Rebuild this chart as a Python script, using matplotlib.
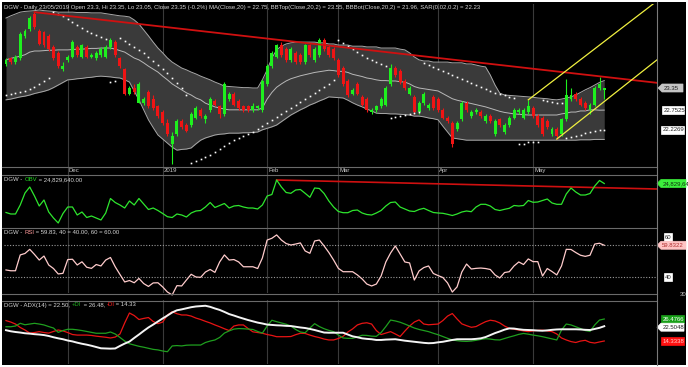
import matplotlib
matplotlib.use('Agg')
import matplotlib.pyplot as plt
from matplotlib.patches import Rectangle, Polygon
from matplotlib.transforms import blended_transform_factory
import numpy as np

# ---------------- data ----------------
months = ['Dec', '2019', 'Feb', 'Mar', 'Apr', 'May']
month_start_idx = [13, 33, 55, 70, 91, 111]

opens = [24.00,24.15,24.05,24.15,24.75,24.95,25.35,24.90,24.85,24.75,
 24.45,24.30,23.85,24.10,24.20,24.45,24.20,24.45,24.20,24.15,
 24.25,24.20,24.45,24.60,24.15,23.85,23.20,23.35,22.95,22.95,
 23.25,23.05,22.85,22.70,22.40,21.85,22.10,22.45,22.35,22.35,
 22.55,22.75,22.50,22.75,23.00,22.85,22.65,23.05,23.20,23.00,
 22.85,22.85,22.75,22.80,22.75,23.45,23.95,24.20,24.50,24.40,
 24.10,24.30,24.25,24.05,24.50,24.10,24.25,24.65,24.45,24.40,
 24.10,23.90,23.55,23.20,23.45,23.10,23.05,22.70,22.75,22.85,
 22.90,23.45,23.90,23.80,23.55,23.20,23.10,22.70,22.95,22.80,
 23.10,23.05,22.75,22.55,22.40,22.25,22.50,22.95,22.60,22.70,
 22.70,22.45,22.60,22.10,22.50,22.15,22.35,22.55,22.70,22.55,
 22.70,22.80,22.60,22.55,22.45,22.10,22.25,22.10,22.50,23.05,
 23.20,23.05,22.95,22.75,22.90,23.35,23.30]
closes = [24.10,24.05,24.20,24.80,24.90,25.25,25.00,24.55,24.50,24.40,
 24.15,23.95,23.95,24.20,24.60,24.25,24.50,24.20,24.25,24.30,
 24.40,24.45,24.65,24.25,23.95,23.20,23.35,23.25,23.45,23.05,
 22.85,22.80,22.60,22.40,22.10,22.05,22.45,22.30,22.20,22.65,
 22.80,22.60,22.60,23.05,22.90,22.65,23.45,23.20,22.90,22.80,
 22.75,22.75,22.85,22.85,23.55,23.95,24.30,24.50,24.25,24.10,
 24.40,24.05,24.05,24.50,24.25,24.40,24.65,24.40,24.25,24.15,
 23.70,23.45,23.15,23.30,23.20,22.90,22.75,22.75,22.85,23.05,
 23.35,23.90,23.70,23.50,23.35,23.35,22.70,22.95,23.20,22.90,
 22.80,22.75,22.55,22.45,21.85,22.40,22.95,22.75,22.70,22.75,
 22.60,22.60,22.45,22.45,22.35,22.35,22.55,22.75,22.75,22.75,
 22.85,22.60,22.35,22.10,22.30,22.25,22.05,22.50,23.15,23.15,
 23.05,22.90,22.80,22.90,23.35,23.45,23.35]
highs = [24.15,24.20,24.25,24.85,24.95,25.30,25.40,24.95,24.90,24.80,
 24.50,24.35,24.05,24.25,24.65,24.50,24.55,24.50,24.30,24.35,
 24.45,24.50,24.70,24.65,24.20,23.90,23.40,23.45,23.50,23.10,
 23.30,23.15,22.90,22.75,22.50,22.15,22.50,22.50,22.40,22.70,
 22.85,22.80,22.65,23.10,23.05,22.90,23.50,23.25,23.25,23.05,
 22.90,22.90,22.95,22.90,23.60,24.00,24.35,24.55,24.60,24.45,
 24.45,24.35,24.30,24.55,24.55,24.45,24.70,24.70,24.50,24.45,
 24.15,23.95,23.60,23.35,23.50,23.15,23.10,22.80,22.90,23.10,
 23.40,24.00,23.95,23.85,23.60,23.40,23.15,23.00,23.25,22.95,
 23.15,23.10,22.80,22.60,22.45,22.45,23.00,23.00,22.75,22.80,
 22.75,22.65,22.65,22.50,22.55,22.40,22.60,22.80,22.80,22.80,
 23.03,22.85,22.65,22.60,22.50,22.30,22.30,22.55,23.60,23.35,
 23.25,23.10,23.00,22.95,23.40,23.65,23.35]
lows = [23.95,24.00,24.00,24.10,24.70,24.90,24.95,24.50,24.45,24.35,
 24.10,23.90,23.80,24.05,24.15,24.20,24.15,24.15,24.15,24.10,
 24.20,24.15,24.40,24.20,23.90,23.15,23.15,23.20,22.95,22.90,
 22.80,22.75,22.55,22.35,22.05,21.30,22.05,22.25,22.15,22.30,
 22.50,22.55,22.40,22.70,22.85,22.55,22.60,23.00,22.85,22.75,
 22.70,22.70,22.70,22.75,22.70,23.40,23.90,24.15,24.20,24.05,
 24.05,24.00,24.00,24.00,24.20,24.05,24.20,24.35,24.20,24.10,
 23.65,23.40,23.10,23.15,23.15,22.85,22.70,22.65,22.70,22.80,
 22.85,23.40,23.65,23.45,23.30,23.15,22.65,22.65,22.90,22.75,
 22.75,22.70,22.50,22.40,21.75,22.20,22.45,22.70,22.55,22.65,
 22.55,22.40,22.40,22.05,22.30,22.10,22.30,22.50,22.65,22.50,
 22.65,22.55,22.30,22.05,22.25,22.05,21.97,22.05,22.45,23.00,
 23.00,22.85,22.75,22.65,22.85,23.30,23.05]

ma20 = [24.11,24.15,24.18,24.21,24.25,24.32,24.35,24.35,24.36,24.37,
 24.37,24.38,24.38,24.38,24.39,24.40,24.40,24.41,24.42,24.42,
 24.43,24.43,24.43,24.40,24.36,24.32,24.24,24.16,24.11,24.03,
 23.94,23.86,23.78,23.67,23.57,23.46,23.38,23.30,23.22,23.16,
 23.08,23.03,22.94,22.89,22.84,22.81,22.78,22.76,22.76,22.76,
 22.76,22.76,22.76,22.76,22.81,23.05,23.23,23.37,23.46,23.54,
 23.60,23.64,23.68,23.71,23.74,23.77,23.79,23.81,23.83,23.82,
 23.80,23.80,23.77,23.72,23.69,23.66,23.62,23.60,23.57,23.55,
 23.55,23.54,23.54,23.52,23.51,23.46,23.39,23.35,23.33,23.31,
 23.29,23.27,23.20,23.13,23.06,23.02,22.99,22.96,22.93,22.90,
 22.87,22.84,22.80,22.76,22.72,22.69,22.67,22.65,22.64,22.63,
 22.62,22.62,22.62,22.62,22.62,22.62,22.62,22.65,22.67,22.70,
 22.70,22.73,22.73,22.76,22.76,22.75,22.7525]
bb_top = [25.24,25.30,25.35,25.40,25.42,25.43,25.44,25.46,25.44,25.43,
 25.42,25.40,25.40,25.40,25.40,25.39,25.39,25.39,25.38,25.38,
 25.38,25.36,25.34,25.32,25.30,25.29,25.27,25.19,25.08,24.92,
 24.76,24.59,24.43,24.30,24.16,24.05,23.97,23.89,23.84,23.78,
 23.73,23.67,23.62,23.57,23.51,23.46,23.40,23.39,23.38,23.37,
 23.36,23.36,23.35,23.35,23.57,23.84,24.16,24.38,24.48,24.54,
 24.57,24.59,24.59,24.59,24.59,24.59,24.57,24.57,24.54,24.54,
 24.51,24.51,24.51,24.48,24.48,24.48,24.46,24.46,24.46,24.43,
 24.43,24.43,24.43,24.40,24.38,24.30,24.19,24.11,24.08,24.08,
 24.05,24.05,24.05,24.05,24.03,24.03,24.03,24.00,24.00,23.97,
 23.94,23.92,23.70,23.43,23.21,23.16,23.15,23.14,23.13,23.12,
 23.11,23.10,23.08,23.07,23.06,23.04,23.03,23.05,23.08,23.11,
 23.16,23.23,23.30,23.36,23.43,23.50,23.55]
bb_bot = [23.03,23.05,23.08,23.11,23.13,23.16,23.20,23.23,23.26,23.30,
 23.36,23.43,23.50,23.57,23.58,23.60,23.61,23.63,23.64,23.66,
 23.67,23.66,23.65,23.63,23.62,23.57,23.51,23.27,23.03,22.76,
 22.49,22.28,22.08,21.97,21.86,21.75,21.67,21.69,21.70,21.73,
 21.84,21.94,22.00,22.04,22.08,22.10,22.11,22.13,22.13,22.13,
 22.14,22.14,22.15,22.16,22.22,22.26,22.30,22.35,22.44,22.53,
 22.62,22.69,22.76,22.82,22.89,22.94,23.00,23.05,23.11,23.10,
 23.09,23.08,23.02,22.95,22.89,22.84,22.78,22.73,22.67,22.66,
 22.66,22.65,22.65,22.64,22.63,22.62,22.59,22.59,22.57,22.54,
 22.52,22.49,22.32,22.16,22.00,21.98,21.96,21.94,21.94,21.94,
 21.94,21.94,21.94,21.94,21.94,21.94,21.94,21.94,21.94,21.94,
 21.94,21.94,21.94,21.94,21.94,21.94,21.94,21.94,21.94,21.94,
 21.94,21.95,21.95,21.95,21.96,21.96,21.96]
sar = [23.16,23.19,23.22,23.24,23.27,23.32,23.38,23.46,23.54,23.62,
 25.40,25.35,25.30,25.21,25.13,25.05,24.97,24.89,24.84,24.78,
 24.73,24.67,23.51,23.54,24.70,24.62,24.54,24.46,24.38,24.30,
 24.19,24.08,23.97,23.86,23.75,23.62,23.48,23.35,23.16,21.32,
 21.38,21.43,21.49,21.54,21.62,21.70,21.78,21.86,21.94,22.00,
 22.05,22.11,22.16,22.24,22.32,22.40,22.49,22.57,22.65,22.73,
 22.81,22.89,22.97,23.05,23.13,23.21,23.30,23.38,23.46,23.57,
 24.65,24.57,24.49,24.40,24.32,24.24,24.16,24.11,24.05,24.00,
 23.94,22.54,22.57,22.59,22.62,22.65,22.68,22.70,24.03,23.97,
 23.92,23.86,23.81,23.75,23.70,23.65,23.59,23.54,23.48,23.43,
 23.38,23.32,23.27,23.21,23.19,23.16,23.11,23.08,21.84,21.84,
 21.89,21.89,21.89,23.03,23.00,22.97,22.95,22.95,22.00,22.03,
 22.05,22.08,22.13,22.16,22.19,22.22,22.2269]

obv_m = [21.93,21.78,21.78,22.68,23.88,24.48,23.58,22.58,23.18,21.98,
 21.38,20.88,21.83,22.48,22.48,21.68,21.98,21.43,21.58,21.38,
 21.18,21.88,23.33,22.93,22.68,22.38,23.08,22.68,23.33,22.78,
 22.23,22.38,22.13,21.83,21.51,21.43,21.78,21.68,21.48,21.88,
 22.08,22.13,22.48,22.93,22.43,22.63,22.83,22.38,22.58,22.63,
 22.48,22.38,22.38,22.28,22.68,23.58,23.73,25.18,24.48,23.93,
 23.85,24.18,24.23,23.85,23.45,24.38,24.33,23.83,23.08,22.48,
 22.03,21.91,21.91,22.13,22.18,21.88,21.73,21.68,21.88,22.13,
 22.58,22.93,22.98,22.48,22.28,22.08,22.03,22.23,22.35,22.13,
 21.93,21.88,21.85,21.75,21.63,21.78,21.98,22.08,22.01,22.48,
 22.75,22.75,22.58,22.23,22.13,22.25,22.35,22.63,22.58,22.63,
 23.13,22.95,22.98,23.13,23.28,22.88,22.75,22.75,23.78,24.38,
 23.98,23.68,23.68,23.83,24.58,25.13,24.82964]

rsi = [44.4,43.9,43.9,53.8,54.7,57.3,54.1,50.6,53.1,47.5,
 45.3,41.9,42.3,50.9,51.1,47.5,49.5,46.1,45.4,47.8,
 46.9,50.6,52.2,46.4,41.6,36.9,37.8,36.4,39.1,35.9,
 34.1,36.3,36.4,33.8,30.6,28.8,34.6,34.4,38.1,41.7,
 40.0,39.8,43.1,44.7,42.9,49.4,53.8,50.6,50.9,49.4,
 46.4,46.4,46.4,45.3,51.9,63.1,64.2,66.3,63.1,60.9,
 60.0,60.6,61.3,56.3,54.8,62.5,63.1,59.4,55.3,50.6,
 45.4,43.3,43.3,43.3,41.3,38.8,35.6,34.4,35.6,40.6,
 49.4,55.0,59.4,54.4,49.4,48.8,38.1,43.8,45.9,46.9,
 42.2,40.9,39.7,36.3,30.6,33.8,43.1,48.1,45.0,45.4,
 45.6,45.3,44.7,41.3,39.4,42.8,43.3,46.9,49.4,47.8,
 51.3,49.6,49.6,40.6,45.3,43.4,41.3,46.9,57.3,57.2,
 55.3,53.6,52.9,53.6,60.6,61.1,59.8322]
rsi_levels = [40, 60]

adx = [20.3,19.7,19.3,19.0,18.6,18.4,18.1,17.9,17.6,17.1,
 16.4,15.8,15.3,14.6,14.1,13.4,12.8,12.3,11.7,11.0,
 10.3,10.2,10.1,10.2,11.6,12.9,14.0,16.0,17.9,19.9,
 21.8,23.4,25.1,26.8,28.4,30.1,31.3,31.8,32.4,33.0,
 33.4,33.6,33.8,33.2,32.3,31.5,30.4,29.2,28.4,27.5,
 26.7,25.9,25.2,24.5,24.0,23.4,23.2,23.0,22.9,22.7,
 22.6,22.2,21.8,21.5,21.0,20.4,19.7,19.0,18.9,18.9,
 18.9,18.9,17.9,16.9,16.4,15.8,15.5,15.3,14.9,14.9,
 15.1,15.2,15.3,14.9,14.5,14.2,13.9,13.6,13.3,13.1,
 13.2,13.6,13.9,14.4,14.9,15.3,15.3,15.3,15.3,15.5,
 15.8,16.5,17.6,18.7,19.6,20.6,21.3,21.2,20.8,20.5,
 20.4,20.3,20.1,20.0,20.2,20.5,20.7,20.8,20.8,20.8,
 20.8,20.7,20.5,20.4,21.0,21.6,22.5048]
minus_di = [25.6,24.8,23.7,21.8,20.4,18.7,19.0,19.5,19.0,18.7,
 19.6,20.4,19.9,19.0,17.9,17.6,17.6,17.6,17.4,17.0,
 16.7,16.4,16.0,16.5,18.2,24.3,29.8,28.4,26.2,26.8,
 27.3,25.1,23.9,24.8,28.7,30.5,29.4,28.7,28.7,28.1,
 27.0,26.2,25.2,24.3,23.2,22.2,21.1,20.1,22.6,23.2,
 23.2,21.2,19.4,19.0,18.6,17.9,17.4,16.7,16.7,16.7,
 16.8,17.8,18.6,18.5,17.6,16.8,16.2,15.4,14.9,14.9,
 15.7,16.9,19.3,21.0,23.2,24.1,24.4,23.7,20.1,17.9,
 18.7,19.5,18.2,16.8,19.8,22.6,24.8,26.0,23.7,23.3,
 23.5,23.7,25.6,28.1,29.5,26.5,23.8,22.8,21.9,22.3,
 23.7,25.0,25.8,25.4,24.3,22.6,21.3,20.8,20.4,19.9,
 19.5,19.9,20.2,20.3,19.9,19.5,18.2,16.0,14.9,14.0,
 13.5,14.3,14.7,13.6,13.2,13.8,14.3338]
plus_di = [22.2,22.2,22.6,24.1,23.3,23.7,24.1,23.7,23.2,22.3,
 21.5,19.1,20.1,20.8,20.8,20.5,20.1,19.6,19.1,18.6,
 18.6,18.6,19.3,18.2,16.3,14.3,12.8,12.1,11.4,10.9,
 10.3,9.7,9.4,8.8,8.4,11.6,11.8,11.6,12.0,12.1,
 12.1,12.1,13.5,14.3,14.9,16.3,18.7,19.9,20.9,21.2,
 21.1,20.9,20.7,19.6,18.7,22.6,25.8,25.0,24.3,23.6,
 22.6,20.7,19.3,18.9,21.5,23.9,22.3,21.1,20.2,19.5,
 17.6,16.0,15.8,15.8,16.5,17.5,17.4,17.0,16.9,19.0,
 22.3,25.9,25.4,24.7,23.7,22.6,21.5,20.7,20.1,19.5,
 18.6,17.8,16.8,15.8,14.9,14.5,14.2,14.1,14.3,14.7,
 15.2,15.6,15.4,15.0,14.9,15.7,16.5,17.2,18.0,18.5,
 18.1,17.6,17.2,16.7,16.1,15.5,14.9,20.4,23.7,23.2,
 22.2,21.2,20.1,19.6,23.2,25.9,26.4766]

# trend lines (index, value) pairs
price_trend = [(6, 25.40), (137.1, 23.49)]
obv_trend = [(57, 25.18), (137.1, 24.28)]
channel_up1 = [(110, 23.03), (137.1, 25.70)]
channel_up2 = [(116, 21.97), (137.1, 24.11)]

# ---------------- figure ----------------
W, H = 688, 367
FS = 4.3
FONT = 'Liberation Sans'
plt.rcParams['font.family'] = [FONT, 'DejaVu Sans']

fig = plt.figure(figsize=(W / 100, H / 100), dpi=100, facecolor='white')
fig.add_artist(Rectangle((2 / W, 1 - 365 / H), 684 / W, 363 / H,
                         transform=fig.transFigure, facecolor='black',
                         edgecolor='none', zorder=-10))


def add_ax(x0, y0, x1, y1):
    a = fig.add_axes([x0 / W, 1 - y1 / H, (x1 - x0) / W, (y1 - y0) / H])
    a.set_facecolor('black')
    for s in a.spines.values():
        s.set_visible(False)
    a.set_xticks([])
    a.set_yticks([])
    a.set_xlim(-0.42, 137.11)
    return a


ax_p = add_ax(4, 4, 657, 166)
ax_d = add_ax(4, 166, 657, 175)
ax_o = add_ax(4, 175, 657, 227)
ax_r = add_ax(4, 227, 657, 293)
ax_a = add_ax(4, 300, 657, 364)

ax_p.set_ylim(21.242, 25.62)
ax_d.set_ylim(0, 1)
ax_o.set_ylim(20.48, 25.68)
ax_r.set_ylim(30.0, 71.25)
ax_a.set_ylim(1.62, 36.98)

idx = np.arange(len(closes))
o = np.array(opens); c = np.array(closes)
h = np.array(highs); l = np.array(lows)

GRID = '#3a3a3a'
for a in (ax_p, ax_d, ax_o, ax_r, ax_a):
    for m in month_start_idx:
        a.axvline(m, color=GRID, lw=0.8, zorder=0.5)

# price panel
ax_p.fill_between(idx, bb_bot, bb_top, color='#3a3a3a', lw=0, zorder=1)
ax_p.plot(idx, bb_top, color='#a8a8a8', lw=0.7, zorder=2)
ax_p.plot(idx, bb_bot, color='#a8a8a8', lw=0.7, zorder=2)
ax_p.plot(idx, ma20, color='#b8b8b8', lw=0.7, zorder=2)
up = c >= o
cols = np.where(up, '#1ef01e', '#f01414')
ax_p.vlines(idx, l, h, colors=cols, lw=0.8, zorder=3)
body = np.maximum(np.abs(c - o), 0.02)
ax_p.bar(idx, body, bottom=np.minimum(o, c), width=0.62, color=cols,
         lw=0, zorder=4)
ax_p.plot(idx, sar, ls='none', marker='s', ms=1.2, mfc='white', mec='none',
          zorder=5)
ax_p.plot([p[0] for p in price_trend], [p[1] for p in price_trend],
          color='#d01010', lw=1.3, zorder=6)
for ch in (channel_up1, channel_up2):
    ax_p.plot([p[0] for p in ch], [p[1] for p in ch], color='#f0f040',
              lw=0.9, zorder=6)

# date strip
tr = blended_transform_factory(ax_d.transData, ax_d.transAxes)
for m, lab in zip(month_start_idx, months):
    ax_d.text(m + 0.25, 0.45, lab, transform=tr, color='#c8c8c8',
              fontsize=FS, va='center', ha='left')

# OBV
ax_o.plot([p[0] for p in obv_trend], [p[1] for p in obv_trend],
          color='#d01010', lw=1.2, zorder=2)
ax_o.plot(idx, obv_m, color='#2ee62e', lw=0.9, zorder=3, clip_on=False)

# RSI
for lv in rsi_levels:
    ax_r.axhline(lv, color='#9a9a9a', lw=0.8, ls=(0, (1, 1.5)), zorder=1)
ax_r.plot(idx, rsi, color='#ffcccc', lw=0.9, zorder=3, clip_on=False)

# ADX
ax_a.plot(idx, minus_di, color='#e81414', lw=0.9, zorder=2)
ax_a.plot(idx, plus_di, color='#1f9f1f', lw=0.9, zorder=3)
ax_a.plot(idx, adx, color='#f4f4f4', lw=1.4, zorder=4)

# ---------------- overlay (labels, separators) ----------------
ov = fig.add_axes([0, 0, 1, 1], zorder=10)
ov.set_xlim(0, W)
ov.set_ylim(H, 0)
ov.axis('off')

SEP = '#6a6a6a'
for yy in (166.5, 175.0, 227.5, 293.5, 300.5):
    ov.plot([2, 657], [yy, yy], color=SEP, lw=0.8)
ov.plot([657, 657], [2, 365], color='#7a7a7a', lw=0.8)


def ypix(a, v):
    return H - a.transData.transform((0, v))[1]


renderer = fig.canvas.get_renderer()


def ctext(x, y, parts):
    for s, col in parts:
        t = ov.text(x, y, s, color=col, fontsize=FS, va='center', ha='left')
        x += t.get_window_extent(renderer=renderer).width


def label(xl, xr, yc, fc, tc, txt, tag=False, ec=None):
    hh = 4
    if tag:
        pts = [(xl - 4, yc), (xl, yc - hh), (xr, yc - hh), (xr, yc + hh),
               (xl, yc + hh)]
    else:
        pts = [(xl, yc - hh), (xr, yc - hh), (xr, yc + hh), (xl, yc + hh)]
    ov.add_patch(Polygon(pts, closed=True, fc=fc, ec=ec or fc, lw=0.5,
                         clip_on=False))
    ov.text(xl + 1.2, yc + 0.3, txt, color=tc, fontsize=FS, va='center',
            ha='left', clip_on=False)


TXT = '#d4d4d4'
title = (f"DGW - Daily 23/05/2019 Open {opens[-1]:g}, Hi {highs[-1]:g}, "
         f"Lo {lows[-1]:g}, Close {closes[-1]:g} (-0.2%) "
         f"MA(Close,20) = {ma20[-1]:.2f}, BBTop(Close,20,2) = {bb_top[-1]:.2f}, "
         f"BBBot(Close,20,2) = {bb_bot[-1]:.2f}, SAR(0.02,0.2) = {sar[-1]:.2f}")
ctext(4.5, 7.5, [(title, TXT)])
obv_units = obv_m[-1] * 1e6
ctext(4.5, 179.5, [("DGW - ", TXT), ("OBV", '#22dd22'),
                   (f" = {obv_units:,.2f}", TXT)])
ctext(4.5, 232, [("DGW - ", TXT), ("RSI", '#ff9a9a'),
                 (f" = {rsi[-1]:.2f}, 40 = 40.00, 60 = 60.00", TXT)])
ctext(4.5, 305, [("DGW - ADX(14) = " + f"{adx[-1]:.2f}, ", TXT),
                 ("+DI", '#20b020'), (f" = {plus_di[-1]:.2f}, ", TXT),
                 ("-DI", '#ff2020'), (f" = {minus_di[-1]:.2f}", TXT)])

# right-hand value labels
label(662, 683, ypix(ax_p, closes[-1]), '#c4c4c4', '#202020',
      f"{closes[-1]:g}", tag=True)
label(662, 684, ypix(ax_p, ma20[-1]), 'white', '#202020', f"{ma20[-1]:.4f}")
label(661, 684, ypix(ax_p, sar[-1]), 'white', '#202020', f"{sar[-1]:.4f}")
obv_txt = f"{obv_units:,.0f}"[:9]
label(661, 686, ypix(ax_o, obv_m[-1]), '#3cf03c', '#103010', obv_txt,
      tag=True)
label(664, 672, ypix(ax_r, 60) - 8, 'white', '#202020', "60")
label(661, 686, ypix(ax_r, rsi[-1]), '#ffc4c4', '#b03030',
      f"{rsi[-1]:.4f}", tag=True)
label(664, 672, ypix(ax_r, 40), 'white', '#202020', "40")
ov.text(680, 294.5, "30", color='#c8c8c8', fontsize=FS, va='center',
        ha='left')
label(661, 684, ypix(ax_a, plus_di[-1]), '#18a018', 'white',
      f"{plus_di[-1]:.4f}")
label(661, 684, ypix(ax_a, adx[-1]) + 1, 'white', '#202020',
      f"{adx[-1]:.4f}", tag=True)
label(661, 684, ypix(ax_a, minus_di[-1]), '#ff1010', '#ffd0d0',
      f"{minus_di[-1]:.4f}")

fig.savefig('out.png', dpi=100, facecolor='white')
